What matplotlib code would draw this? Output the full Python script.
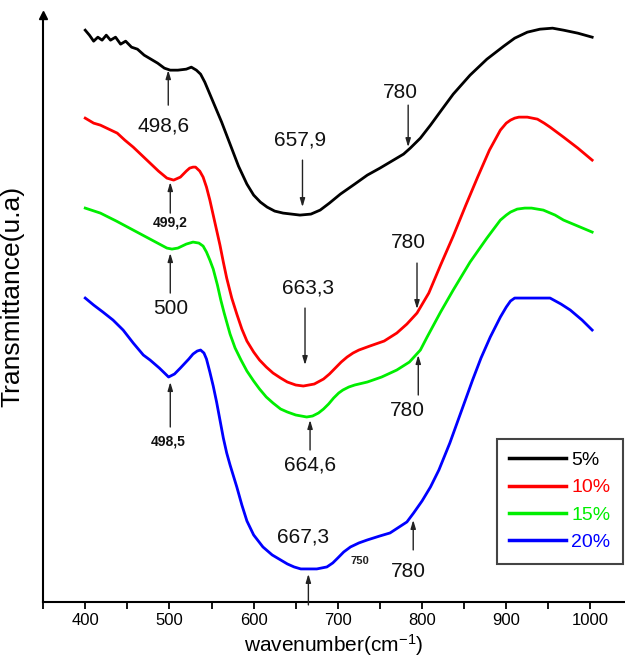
import numpy as np
import matplotlib
matplotlib.use('Agg')
import matplotlib.pyplot as plt
from matplotlib.ticker import MultipleLocator

plt.rcParams['font.family'] = ['Liberation Sans', 'DejaVu Sans']
plt.rcParams['mathtext.default'] = 'regular'

# wavenumber (cm-1) / transmittance (a.u.)
w_5 = [400, 405, 410, 415, 420, 425, 430, 436, 442, 448, 455, 462, 470, 478, 486, 494,
       501, 510, 520, 526, 532, 537, 542, 547, 552, 562, 572, 582, 592, 600, 608, 616,
       625, 635, 645, 655, 668, 679, 690, 703, 720, 735, 750, 766, 778, 786, 798, 810,
       823, 837, 857, 877, 897, 910, 925, 940, 955, 968, 985, 1002]
t_5 = [570, 565, 559, 563, 560, 565, 560, 563, 556, 559, 553, 551, 545, 541, 537, 532,
       530, 530, 531, 533, 530, 526, 518, 508, 498, 478, 456, 434, 416, 405, 398, 393,
       389, 387, 386, 385, 386, 390, 397, 406, 416, 425, 432, 440, 446, 452, 462, 475,
       490, 506, 525, 541, 554, 562, 568, 571, 572, 570, 567, 563]

w_10 = [400, 410, 418, 428, 438, 447, 457, 467, 477, 487, 497, 505, 513, 520, 524, 528,
        531, 536, 540, 544, 548, 552, 556, 560, 564, 568, 574, 580, 586, 592, 600, 607,
        615, 623, 632, 640, 650, 659, 672, 683, 690, 697, 704, 711, 718, 725, 738, 755,
        770, 782, 794, 808, 822, 837, 852, 866, 880, 893, 900, 905, 910, 915, 925, 937,
        945, 952, 968, 985, 1002]
t_10 = [482, 477, 475, 471, 467, 460, 453, 445, 437, 429, 422, 420, 423, 429, 432, 433,
        433, 429, 423, 413, 400, 385, 370, 355, 338, 322, 302, 286, 271, 259, 248, 240,
        233, 227, 222, 218, 215, 214, 216, 221, 226, 232, 238, 243, 247, 250, 254, 259,
        267, 276, 287, 307, 335, 364, 395, 423, 450, 470, 477, 480, 482, 483, 483, 481,
        477, 473, 463, 452, 440]

w_15 = [400, 418, 437, 457, 477, 497, 503, 510, 520, 528, 535, 540, 544, 548, 552, 557,
        561, 565, 572, 578, 585, 592, 600, 607, 615, 623, 632, 640, 650, 663, 670, 677,
        683, 689, 695, 701, 706, 713, 720, 735, 752, 770, 785, 798, 806, 822, 837, 857,
        877, 893, 900, 905, 913, 922, 930, 944, 958, 968, 985, 1002]
t_15 = [392, 387, 379, 370, 361, 352, 351, 352, 356, 358, 357, 354, 348, 340, 331, 315,
        300, 287, 266, 252, 240, 229, 219, 211, 203, 197, 191, 188, 185, 183, 184, 187,
        191, 196, 202, 207, 210, 213, 215, 218, 223, 230, 238, 250, 263, 288, 310, 338,
        362, 380, 385, 388, 391, 392, 392, 390, 385, 380, 374, 368]

w_20 = [400, 410, 421, 433, 445, 457, 469, 477, 488, 499, 506, 513, 523, 528, 533, 537,
        541, 544, 548, 552, 556, 560, 564, 568, 572, 580, 586, 592, 600, 611, 622, 632,
        640, 648, 656, 664, 675, 687, 694, 700, 707, 715, 725, 735, 750, 762, 782, 790,
        800, 810, 820, 833, 842, 851, 860, 870, 881, 893, 900, 905, 910, 930, 952, 965,
        976, 990, 1002]
t_20 = [302, 295, 288, 280, 270, 257, 245, 240, 232, 223, 226, 232, 241, 246, 249, 250,
        247, 241, 228, 214, 198, 180, 162, 147, 135, 113, 95, 79, 65, 53, 45, 40,
        36, 33, 31, 31, 31, 33, 37, 42, 48, 53, 57, 60, 64, 67, 78, 87,
        99, 113, 130, 157, 178, 199, 220, 242, 263, 283, 293, 299, 302, 302, 302, 296,
        290, 280, 270]

labels = ['5%', '10%', '15%', '20%']
colors = ['#000000', '#ff0000', '#00ee00', '#0000ff']

# arrow x, tail, head, text, text x, text y, size, bold
notes = [
    (498.6, 495, 530, '498,6', 493, 474, 15, False),
    (658, 440, 393, '657,9', 655, 460, 15, False),
    (783.5, 495, 453, '780', 774, 508, 15, False),
    (501, 387, 418, '499,2', 501, 378, 10, True),
    (501, 307, 347, '500', 501, 292, 15, False),
    (661, 292, 235, '663,3', 665, 312, 15, False),
    (794, 337, 291, '780', 783.5, 358, 15, False),
    (795.5, 205, 245, '780', 782, 190, 15, False),
    (667, 150, 180, '664,6', 667, 135, 15, False),
    (501, 173, 218, '498,5', 498.6, 158, 10, True),
    (665, -5, 26, '667,3', 659, 63, 15, False),
    (789.5, 50, 80, '780', 783.5, 28, 15, False),
]

fig = plt.figure(figsize=(6.25, 6.6), dpi=100)
ax = fig.add_axes([0.069, 0.088, 0.931, 0.889])

for w, t, lab, c in zip([w_5, w_10, w_15, w_20], [t_5, t_10, t_15, t_20], labels, colors):
    ax.plot(w, t, color=c, lw=2.0, label=lab, solid_joinstyle='round')

for x, y0, y1, txt, tx, ty, fs, bold in notes:
    ax.annotate('', xy=(x, y1), xytext=(x, y0),
                arrowprops=dict(arrowstyle='-|>,head_length=0.5,head_width=0.15',
                                color='#222222', lw=1.0, mutation_scale=10,
                                shrinkA=0, shrinkB=0))
    ax.text(tx, ty, txt, fontsize=fs, ha='center', va='center', color='#111111',
            fontweight='bold' if bold else 'normal')
ax.text(726.6, 39, '750', fontsize=8, ha='center', va='center', fontweight='bold',
        color='#222222')

ax.set_xlim(350, 1041)
ax.set_ylim(-2, 585)
ax.xaxis.set_major_locator(MultipleLocator(100))
ax.xaxis.set_minor_locator(MultipleLocator(50))
ax.tick_params(axis='x', which='both', direction='out', length=5, width=1.3,
               labelsize=12, pad=3)
ax.set_yticks([])
for s in ['top', 'right']:
    ax.spines[s].set_visible(False)
for s in ['left', 'bottom']:
    ax.spines[s].set_linewidth(1.5)
ax.plot([0], [1], marker='^', ms=6, color='k', transform=ax.transAxes, clip_on=False)

ax.set_xlabel('wavenumber(cm$^{-1}$)', fontsize=15, labelpad=3)
ax.set_ylabel('Transmittance(u.a)', fontsize=19)
ax.yaxis.set_label_coords(-0.032, 0.52)

leg = ax.legend(loc='lower right', bbox_to_anchor=(0.997, 0.065), fontsize=14,
                handlelength=2.9, handletextpad=0.3, labelspacing=0.5,
                borderpad=0.65, borderaxespad=0, fancybox=False, framealpha=1)
leg.get_frame().set_edgecolor('#444444')
leg.get_frame().set_linewidth(1.5)
for text, line in zip(leg.get_texts(), leg.get_lines()):
    text.set_color(line.get_color())
    line.set_linewidth(2.5)

fig.savefig('out.png', dpi=100)
